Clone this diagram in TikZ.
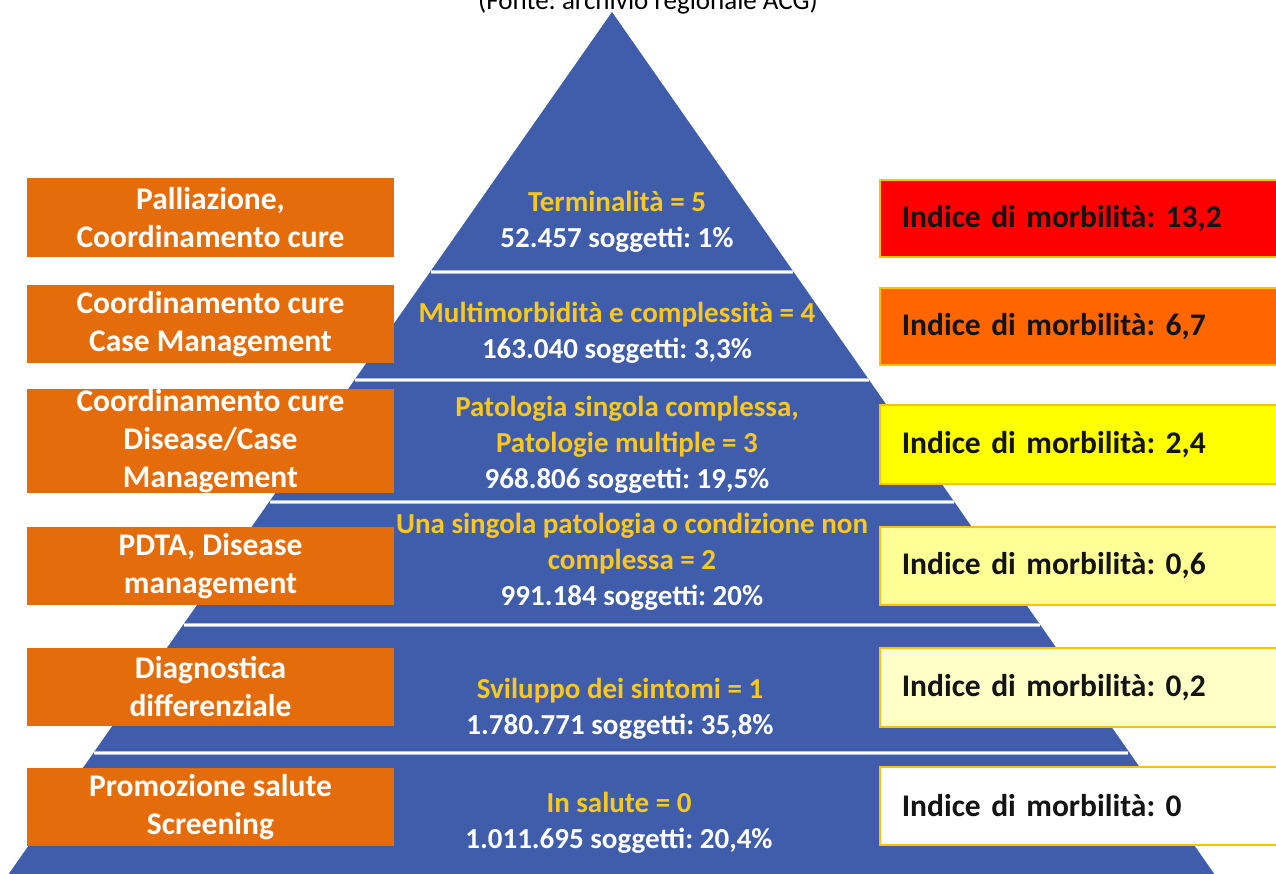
\documentclass[tikz,border=0pt]{standalone}
\usepackage{fontspec}
\setmainfont{Carlito}
\frenchspacing
\definecolor{pyr}{RGB}{63,93,170}
\definecolor{pyredge}{RGB}{170,188,232}
\definecolor{orL}{RGB}{228,108,10}
\definecolor{ytext}{RGB}{250,200,30}
\definecolor{bgold}{RGB}{255,192,0}
\definecolor{rRed}{RGB}{255,0,0}
\definecolor{rOrange}{RGB}{255,102,0}
\definecolor{rYellow}{RGB}{255,255,0}
\definecolor{rLight}{RGB}{255,255,150}
\definecolor{rPale}{RGB}{255,255,200}
\definecolor{dtext}{RGB}{20,20,20}
\begin{document}
\begin{tikzpicture}[x=1pt,y=-1pt,
  lbox/.style={fill=orL, text=white, font=\bfseries\fontsize{31.5}{38}\selectfont\frenchspacing,
    align=center, minimum width=367, inner sep=0},
  rbox/.style={draw=bgold, line width=1.5, text=dtext, font=\bfseries\fontsize{31.5}{38}\selectfont\frenchspacing,
    anchor=west, text width=356, inner xsep=22, inner ysep=0, align=left},
  ptext/.style={text=white, font=\bfseries\fontsize{29}{36}\selectfont\frenchspacing, align=center, inner sep=0},
  divider/.style={draw=pyredge, line width=0.8, double=white, double distance=1.8}]
\useasboundingbox (0,0) rectangle (1276,873);
\clip (0,0) rectangle (1276,873);
\fill[white] (0,0) rectangle (1276,873);
% title
\node[anchor=base, font=\fontsize{27}{32}\selectfont\frenchspacing, text=black, inner sep=0] (title) at (648,9) {(Fonte: archivio regionale ACG)};
% pyramid
\fill[pyr] (612,12) -- (1222,885) -- (1,885) -- cycle;
\draw[divider] (431,272) -- (793,272);
\draw[divider] (355,380) -- (869,380);
\draw[divider] (270,502) -- (954,502);
\draw[divider] (184,625) -- (1040,625);
\draw[divider] (94,753) -- (1128,753);
% pyramid texts
\node[ptext] (p5) at (617,222) {\textcolor{ytext}{Terminalità = 5}\\52.457 soggetti: 1\%};
\node[ptext] (p4) at (617,333) {\textcolor{ytext}{Multimorbidità e complessità = 4}\\163.040 soggetti: 3,3\%};
\node[ptext] (p3) at (627,444.5) {\textcolor{ytext}{Patologia singola complessa,}\\\textcolor{ytext}{Patologie multiple = 3}\\968.806 soggetti: 19,5\%};
\node[ptext] (p2) at (632,562) {\textcolor{ytext}{Una singola patologia o condizione non}\\\textcolor{ytext}{complessa = 2}\\991.184 soggetti: 20\%};
\node[ptext] (p1) at (620,708.5) {\textcolor{ytext}{Sviluppo dei sintomi = 1}\\1.780.771 soggetti: 35,8\%};
\node[ptext] (p0) at (619,822.5) {\textcolor{ytext}{In salute = 0}\\1.011.695 soggetti: 20,4\%};
% left boxes
\node[lbox, minimum height=79] (L5) at (210.5,217.5) {Palliazione,\\Coordinamento cure};
\node[lbox, minimum height=78] (L4) at (210.5,324) {Coordinamento cure\\Case Management};
\node[lbox, minimum height=104] (L3) at (210.5,441) {Coordinamento cure\\Disease/Case\\Management};
\node[lbox, minimum height=78] (L2) at (210.5,566) {PDTA, Disease\\management};
\node[lbox, minimum height=78] (L1) at (210.5,687) {Diagnostica\\differenziale};
\node[lbox, minimum height=78] (L0) at (210.5,807) {Promozione salute\\Screening};
% right boxes
\node[rbox, fill=rRed, minimum height=77] (R5) at (879,218.5) {Indice di morbilità: 13,2};
\node[rbox, fill=rOrange, minimum height=77] (R4) at (879,326.5) {Indice di morbilità: 6,7};
\node[rbox, fill=rYellow, minimum height=79] (R3) at (879,444.5) {Indice di morbilità: 2,4};
\node[rbox, fill=rLight, minimum height=78] (R2) at (879,566) {Indice di morbilità: 0,6};
\node[rbox, fill=rPale, minimum height=79] (R1) at (879,687.5) {Indice di morbilità: 0,2};
\node[rbox, fill=white, minimum height=78] (R0) at (879,806) {Indice di morbilità: 0};
\end{tikzpicture}
\end{document}
